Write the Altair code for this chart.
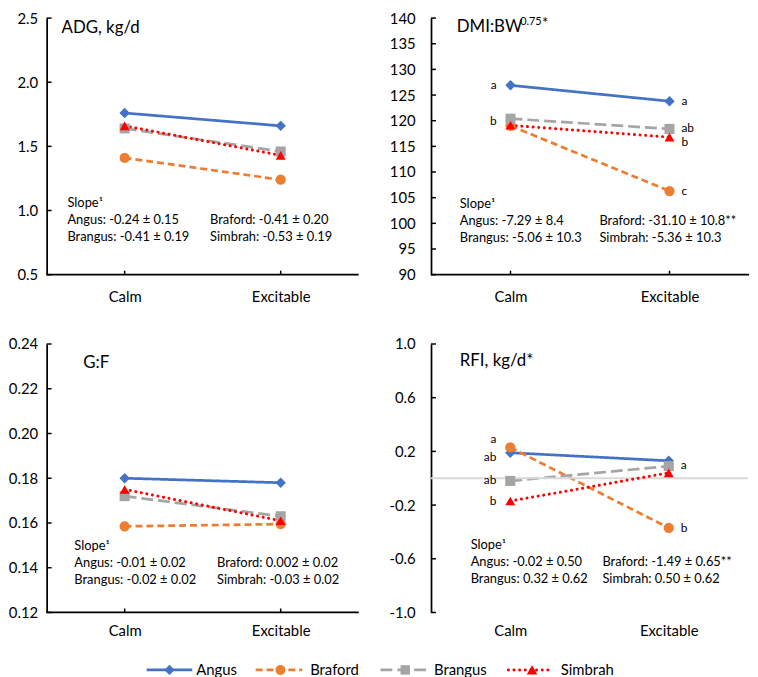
import altair as alt
import pandas as pd

FONT = "Lato"

# ---------------- data ----------------
breeds = ["Angus", "Braford", "Brangus", "Simbrah"]
treatments = ["Calm", "Excitable"]

adg_calm = [1.76, 1.41, 1.64, 1.66]
adg_exc = [1.66, 1.24, 1.46, 1.43]

dmi_calm = [126.9, 119.0, 120.4, 119.1]
dmi_exc = [123.8, 106.3, 118.4, 116.8]

gf_calm = [0.180, 0.1585, 0.172, 0.175]
gf_exc = [0.178, 0.1595, 0.163, 0.161]

rfi_calm = [0.19, 0.23, -0.02, -0.17]
rfi_exc = [0.13, -0.37, 0.09, 0.04]

adg_ticks = [0.5, 1.0, 1.5, 2.0, 2.5]
dmi_ticks = [90, 95, 100, 105, 110, 115, 120, 125, 130, 135, 140]
gf_ticks = [0.12, 0.14, 0.16, 0.18, 0.20, 0.22, 0.24]
rfi_ticks = [-1.0, -0.6, -0.2, 0.2, 0.6, 1.0]

adg_slopes = ["Angus: -0.24 ± 0.15", "Brangus: -0.41 ± 0.19",
              "Braford: -0.41 ± 0.20", "Simbrah: -0.53 ± 0.19"]
dmi_slopes = ["Angus: -7.29 ± 8.4", "Brangus: -5.06 ± 10.3",
              "Braford: -31.10 ± 10.8**", "Simbrah: -5.36 ± 10.3"]
gf_slopes = ["Angus: -0.01 ± 0.02", "Brangus: -0.02 ± 0.02",
             "Braford: 0.002 ± 0.02", "Simbrah: -0.03 ± 0.02"]
rfi_slopes = ["Angus: -0.02 ± 0.50", "Brangus: 0.32 ± 0.62",
              "Braford: -1.49 ± 0.65**", "Simbrah: 0.50 ± 0.62"]

# significance letters: treatment, letter, value they sit at
dmi_letters = [("Calm", "a", 126.9), ("Calm", "b", 120.0),
               ("Excitable", "a", 123.9), ("Excitable", "ab", 118.5),
               ("Excitable", "b", 115.8), ("Excitable", "c", 106.3)]
rfi_letters = [("Calm", "a", 0.29), ("Calm", "ab", 0.155),
               ("Calm", "ab", -0.015), ("Calm", "b", -0.17),
               ("Excitable", "a", 0.10), ("Excitable", "b", -0.37)]

# ---------------- styles ----------------
colors = ["#4472C4", "#ED7D31", "#A5A5A5", "#FF0000"]
dashes = [[1, 0], [7, 4], [12, 5], [1, 0]]
shapes = ["diamond", "circle", "square", "triangle-up"]
sizes = [110, 100, 90, 115]
AXIS_COLOR = "#000000"


def long_df(calm, exc):
    rows = []
    for b, c, e in zip(breeds, calm, exc):
        rows.append({"Breed": b, "Trt": "Calm", "Value": c})
        rows.append({"Breed": b, "Trt": "Excitable", "Value": e})
    return pd.DataFrame(rows)


def one():
    return alt.Chart(pd.DataFrame({"k": [0]}))


def panel(calm, exc, ydomain, yticks, label_expr, W, H,
          titles, slopes, slope_pos, letters=None, zero_line=False,
          xlab_pad=11, ylab_pad=16, legend=False):
    df = long_df(calm, exc)
    xscale = alt.Scale(type="point", domain=treatments, padding=0.5)
    yscale = alt.Scale(domain=ydomain, nice=False, zero=False)
    xaxis = alt.Axis(title=None, domain=False, ticks=False,
                     labelPadding=xlab_pad, labelFontSize=15, labelFont=FONT,
                     labelColor="#000000", labelAngle=0, grid=False)
    yaxis = alt.Axis(title=None, values=yticks, labelExpr=label_expr,
                     domainColor=AXIS_COLOR, domainWidth=1.75, ticks=False,
                     labelPadding=ylab_pad, grid=False,
                     labelFontSize=15, labelFont=FONT, labelColor="#000000")
    xn = alt.X("Trt:N", scale=xscale, axis=xaxis)

    def yq(field):
        return alt.Y(field, scale=yscale, axis=yaxis)

    color = alt.Color("Breed:N", scale=alt.Scale(domain=breeds, range=colors), legend=None)

    lines = alt.Chart(df).transform_filter(alt.datum.Breed != "Simbrah").mark_line(
        strokeWidth=2.75).encode(
        x=xn, y=yq("Value:Q"), color=color,
        strokeDash=alt.StrokeDash("Breed:N", scale=alt.Scale(domain=breeds, range=dashes),
                                  legend=None))
    layers = [lines]

    if zero_line:
        layers.append(alt.Chart(pd.DataFrame({"z": [0.0]})).mark_rule(
            color="#D9D9D9", strokeWidth=2).encode(
            x=alt.value(0), x2=alt.value(W), y=yq("z:Q")))
    else:
        layers.append(one().mark_rule(color=AXIS_COLOR, strokeWidth=1.75).encode(
            x=alt.value(0), x2=alt.value(W), y=alt.value(H)))
        layers.append(alt.Chart(pd.DataFrame({"Trt": treatments})).mark_rule(
            color=AXIS_COLOR, strokeWidth=1.5).encode(
            x=xn, y=alt.value(H), y2=alt.value(H - 4)))
    # inside y ticks
    layers.append(alt.Chart(pd.DataFrame({"v": yticks})).mark_rule(
        color=AXIS_COLOR, strokeWidth=1.5).encode(
        y=yq("v:Q"), x=alt.value(0), x2=alt.value(5)))

    dots = alt.Chart(df).transform_filter(alt.datum.Breed == "Simbrah").mark_line(
        strokeWidth=3, strokeCap="round", strokeDash=[0.1, 5.6]).encode(
        x=xn, y=yq("Value:Q"), color=color)
    pts = alt.Chart(df).mark_point(filled=True, opacity=1).encode(
        x=xn, y=yq("Value:Q"), color=color,
        shape=alt.Shape("Breed:N", scale=alt.Scale(domain=breeds, range=shapes), legend=None),
        size=alt.Size("Breed:N", scale=alt.Scale(domain=breeds, range=sizes), legend=None))
    layers += [dots, pts]

    if letters:
        ldf = pd.DataFrame(letters, columns=["Trt", "lab", "pos"])
        for trt, align, dx in [("Calm", "right", -14), ("Excitable", "left", 12)]:
            layers.append(alt.Chart(ldf[ldf.Trt == trt]).mark_text(
                align=align, baseline="middle", dx=dx, fontSize=12, font=FONT,
                color="#000000").encode(
                x=xn, y=yq("pos:Q"), text="lab:N"))

    for txt, tx, ty, fs in titles:
        layers.append(one().mark_text(text=txt, align="left", baseline="middle",
                                      fontSize=fs, font=FONT, color="#000000").encode(
            x=alt.value(tx), y=alt.value(ty)))

    sx1, sx2, sy = slope_pos
    slope_items = [("Slope¹", sx1, sy), (slopes[0], sx1, sy + 17), (slopes[1], sx1, sy + 34),
                   (slopes[2], sx2, sy + 17), (slopes[3], sx2, sy + 34)]
    for txt, tx, ty in slope_items:
        layers.append(one().mark_text(text=txt, align="left", baseline="middle",
                                      fontSize=13, font=FONT, color="#000000").encode(
            x=alt.value(tx), y=alt.value(ty)))

    if legend:
        ly = 329
        items = [(101, 147, 124, 151), (211, 258, 236, 266),
                 (337, 386, 362, 391), (466, 511, 490, 519)]
        for i, (b, (x0, x1, xm, xt)) in enumerate(zip(breeds, items)):
            if b == "Simbrah":
                ln = one().mark_rule(color=colors[i], strokeWidth=3, strokeCap="round",
                                     strokeDash=[0.1, 5.6])
            else:
                ln = one().mark_rule(color=colors[i], strokeWidth=2.75,
                                     strokeDash=dashes[i])
            layers.append(ln.encode(x=alt.value(x0), x2=alt.value(x1), y=alt.value(ly)))
            layers.append(one().mark_point(shape=shapes[i], filled=True, opacity=1,
                                           size=sizes[i], color=colors[i]).encode(
                x=alt.value(xm), y=alt.value(ly)))
            layers.append(one().mark_text(text=b, align="left", baseline="middle",
                                          fontSize=15, font=FONT, color="#000000").encode(
                x=alt.value(xt), y=alt.value(ly)))

    return alt.layer(*layers).properties(width=W, height=H)


MINUS_FIX = "replace(format(datum.value, '.1f'), '\u2212', '-')"

p1 = panel(adg_calm, adg_exc, [0.5, 2.5], adg_ticks, "format(datum.value, '.1f')",
           315, 259, [("ADG, kg/d", 15, 10, 17)], adg_slopes, (21, 165, 187),
           ylab_pad=9, xlab_pad=15)
p2 = panel(dmi_calm, dmi_exc, [90, 140], dmi_ticks, "format(datum.value, 'd')",
           321, 259,
           [("DMI:BW", 26, 9, 17), ("0.75", 90, 4, 11), ("*", 112, 5, 15)],
           dmi_slopes, (29, 170, 188), letters=dmi_letters, xlab_pad=15)
p3 = panel(gf_calm, gf_exc, [0.12, 0.24], gf_ticks, "format(datum.value, '.2f')",
           315, 271, [("G:F", 37, 19, 17)], gf_slopes, (28, 172, 204),
           ylab_pad=9, legend=True)
p4 = panel(rfi_calm, rfi_exc, [-1.0, 1.0], rfi_ticks, MINUS_FIX,
           320, 271, [("RFI, kg/d*", 29, 17, 17)], rfi_slopes, (40, 173, 203),
           letters=rfi_letters, zero_line=True)

chart = alt.concat(p1, p2, p3, p4, columns=2, bounds="flush",
                   spacing=alt.RowColnumber(row=70, column=73)).properties(
    padding={"left": 0, "top": 0, "right": 0, "bottom": 0}
).configure_view(strokeWidth=0)

chart.save("out.html", embed_options={"renderer": "svg", "actions": False})
